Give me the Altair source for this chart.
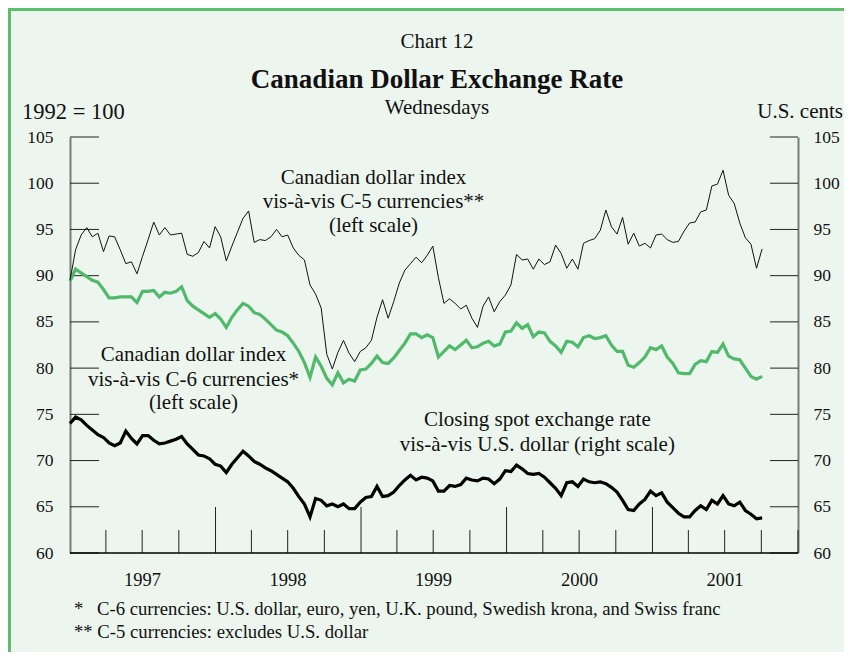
import altair as alt
import pandas as pd

# ---------------- data (every second Wednesday) ----------------
c5 = [89.5, 92.8, 94.4, 95.2, 94.2, 94.6, 92.6, 94.3, 94.2, 92.8,
      91.3, 91.5, 90.2, 92.1, 93.9, 95.8, 94.4, 95.2, 94.4, 94.5,
      94.6, 92.3, 92.1, 92.5, 93.7, 93.0, 95.3, 94.2, 91.6, 93.2,
      94.7, 96.2, 97.0, 93.6, 93.9, 93.8, 94.2, 95.0, 94.2, 94.4,
      93.0, 92.2, 91.7, 89.0, 88.0, 86.5, 81.5, 79.9, 81.7, 83.0,
      81.6, 80.7, 81.8, 82.2, 83.0, 85.5, 87.4, 85.4, 87.2, 89.2,
      90.6, 91.3, 92.0, 91.4, 92.2, 93.2, 89.8, 87.0, 87.5, 87.0,
      86.4, 86.8, 85.4, 84.4, 86.7, 87.7, 86.1, 87.2, 87.9, 89.0,
      92.3, 91.7, 91.8, 90.7, 91.8, 91.2, 91.5, 93.3, 92.4, 90.8,
      91.8, 90.7, 93.5, 93.8, 94.0, 94.9, 97.1, 95.3, 94.5, 96.3,
      93.4, 94.6, 93.2, 93.5, 93.0, 94.4, 94.5, 93.9, 93.6, 93.7,
      94.8, 95.7, 95.8, 96.9, 97.1, 99.7, 99.9, 101.4, 98.7, 97.8,
      95.7, 94.1, 93.4, 90.8, 92.9]

c6 = [89.4, 90.7, 90.3, 89.9, 89.5, 89.3, 88.5, 87.6, 87.6, 87.7,
      87.7, 87.7, 87.1, 88.3, 88.3, 88.4, 87.7, 88.2, 88.1, 88.3,
      88.8, 87.3, 86.7, 86.3, 85.9, 85.5, 85.9, 85.3, 84.4, 85.5,
      86.3, 87.0, 86.7, 86.0, 85.8, 85.3, 84.7, 84.1, 83.9, 83.5,
      82.7, 81.8, 80.6, 79.0, 81.2, 80.2, 78.9, 78.2, 79.5, 78.4,
      78.8, 78.6, 79.8, 79.9, 80.5, 81.3, 80.6, 80.5, 81.1, 81.9,
      82.7, 83.7, 83.7, 83.3, 83.6, 83.3, 81.2, 81.8, 82.4, 82.0,
      82.5, 83.0, 82.2, 82.3, 82.7, 82.9, 82.4, 82.6, 83.9, 84.0,
      84.9, 84.3, 84.7, 83.4, 83.9, 83.8, 82.9, 82.4, 81.7, 82.9,
      82.8, 82.3, 83.3, 83.5, 83.2, 83.3, 83.5, 82.5, 81.8, 81.8,
      80.3, 80.1, 80.6, 81.2, 82.2, 82.0, 82.4, 81.2, 80.5, 79.5,
      79.4, 79.4, 80.4, 80.8, 80.7, 81.8, 81.7, 82.6, 81.3, 81.0,
      80.9, 80.0, 79.1, 78.8, 79.1]

spot = [74.0, 74.7, 74.4, 73.8, 73.3, 72.8, 72.5, 71.9, 71.6, 71.9,
        73.2, 72.4, 71.8, 72.7, 72.7, 72.2, 71.8, 71.9, 72.1, 72.3,
        72.6, 71.8, 71.2, 70.6, 70.5, 70.2, 69.6, 69.4, 68.7, 69.6,
        70.3, 71.0, 70.5, 69.9, 69.6, 69.2, 68.9, 68.5, 68.1, 67.7,
        67.0, 66.1, 65.3, 63.9, 65.9, 65.7, 65.1, 65.3, 65.0, 65.3,
        64.8, 64.8, 65.5, 66.0, 66.1, 67.2, 66.1, 66.2, 66.6, 67.3,
        67.9, 68.4, 67.9, 68.2, 68.1, 67.8, 66.7, 66.7, 67.3, 67.2,
        67.4, 68.1, 67.9, 67.8, 68.1, 68.0, 67.5, 68.0, 68.9, 68.8,
        69.5, 69.1, 68.6, 68.5, 68.6, 68.2, 67.6, 67.0, 66.2, 67.6,
        67.7, 67.2, 68.0, 67.7, 67.6, 67.7, 67.5, 67.1, 66.6, 65.7,
        64.7, 64.6, 65.3, 65.8, 66.7, 66.2, 66.5, 65.5, 64.9, 64.3,
        63.9, 63.9, 64.6, 65.1, 64.7, 65.7, 65.3, 66.2, 65.3, 65.1,
        65.5, 64.6, 64.2, 63.7, 63.8]

y_ticks = [60, 65, 70, 75, 80, 85, 90, 95, 100, 105]
quarter_ticks = ["1997-04-01", "1997-07-01", "1997-10-01",
                 "1998-04-01", "1998-07-01", "1998-10-01",
                 "1999-04-01", "1999-07-01", "1999-10-01",
                 "2000-04-01", "2000-07-01", "2000-10-01",
                 "2001-04-01", "2001-07-01", "2001-10-01", "2002-01-01"]
year_ticks = ["1998-01-01", "1999-01-01", "2000-01-01", "2001-01-01"]
year_labels = ["1997", "1998", "1999", "2000", "2001"]
year_label_dates = ["1997-07-02", "1998-07-02", "1999-07-02", "2000-07-02", "2001-07-02"]

# ---------------- layout ----------------
W, H = 728, 416
PAD = {"left": 62, "top": 129, "right": 46, "bottom": 99}
FONT = "Liberation Serif"
BG = "#EDF6EE"
GREEN = "#50B96B"

dates = pd.date_range("1997-01-01", periods=len(c5), freq="14D")
df = pd.DataFrame({"date": dates, "c5": c5, "c6": c6, "spot": spot})

x_scale = alt.Scale(domain=[alt.DateTime(year=1997, month=1, date=1),
                            alt.DateTime(year=2002, month=1, date=1)])
y_scale = alt.Scale(domain=[60, 105], nice=False, zero=False)
X = alt.X("date:T", scale=x_scale, axis=None)


def yaxis(orient, pad):
    return alt.Axis(orient=orient, values=y_ticks, ticks=False, tickSize=0,
                    domain=True, domainColor="#7c7c7c", domainWidth=2,
                    grid=False, title=None, labelFont=FONT, labelFontSize=17.5,
                    labelColor="#111111", labelPadding=pad)


base = alt.Chart(df)
line_c6 = base.mark_line(color=GREEN, strokeWidth=3.2).encode(
    x=X, y=alt.Y("c6:Q", scale=y_scale, axis=yaxis("left", 17)))
line_c5 = base.mark_line(color="#111111", strokeWidth=1).encode(
    x=X, y=alt.Y("c5:Q", scale=y_scale, axis=None))
line_spot = base.mark_line(color="#000000", strokeWidth=3.2).encode(
    x=X, y=alt.Y("spot:Q", scale=y_scale, axis=yaxis("right", 15)))

ytdf = pd.DataFrame({"v": y_ticks})
ytick_left = alt.Chart(ytdf).mark_rule(color="#222222", strokeWidth=1).encode(
    y=alt.Y("v:Q", scale=y_scale, axis=None), x=alt.value(0), x2=alt.value(29))
ytick_right = alt.Chart(ytdf).mark_rule(color="#222222", strokeWidth=1).encode(
    y=alt.Y("v:Q", scale=y_scale, axis=None), x=alt.value(W - 28), x2=alt.value(W))

qdf = pd.DataFrame({"d": pd.to_datetime(quarter_ticks)})
ydf = pd.DataFrame({"d": pd.to_datetime(year_ticks)})
xtick_minor = alt.Chart(qdf).mark_rule(color="#222222", strokeWidth=1).encode(
    x=alt.X("d:T", scale=x_scale, axis=None), y=alt.value(H), y2=alt.value(H - 23))
xtick_major = alt.Chart(ydf).mark_rule(color="#222222", strokeWidth=1).encode(
    x=alt.X("d:T", scale=x_scale, axis=None), y=alt.value(H), y2=alt.value(H - 46))

one = pd.DataFrame({"a": [0]})
bottom_line = alt.Chart(one).mark_rule(color="#000000", strokeWidth=1.6).encode(
    x=alt.value(0), x2=alt.value(W), y=alt.value(H))

ldf = pd.DataFrame({"d": pd.to_datetime(year_label_dates), "t": year_labels})
year_text = alt.Chart(ldf).mark_text(font=FONT, fontSize=18.5, color="#111111",
                                     baseline="middle", align="center").encode(
    x=alt.X("d:T", scale=x_scale, axis=None), y=alt.value(443), text="t:N")


def txt(s, x, y, size=21, align="center", bold=False):
    return alt.Chart(pd.DataFrame({"t": [s]})).mark_text(
        font=FONT, fontSize=size, color="#111111", align=align, baseline="middle",
        fontWeight="bold" if bold else "normal").encode(
        text="t:N", x=alt.value(x), y=alt.value(y))


texts = [
    txt("Chart 12", 367, -95),
    txt("Canadian Dollar Exchange Rate", 367, -57, size=27, bold=True),
    txt("Wednesdays", 367, -29),
    txt("1992 = 100", -48, -25, size=22.5, align="left"),
    txt("U.S. cents", 773, -25, align="right"),
    txt("Canadian dollar index", 303.5, 41),
    txt("vis-à-vis C-5 currencies**", 303.5, 65),
    txt("(left scale)", 303.5, 89),
    txt("Canadian dollar index", 123.5, 218),
    txt("vis-à-vis C-6 currencies*", 123.5, 243),
    txt("(left scale)", 123.5, 266),
    txt("Closing spot exchange rate", 467.3, 283),
    txt("vis-à-vis U.S. dollar (right scale)", 467.3, 308),
    txt("*", 4, 472, size=18.7, align="left"),
    txt("C-6 currencies: U.S. dollar, euro, yen, U.K. pound, Swedish krona, and Swiss franc",
        27, 472, size=18.7, align="left"),
    txt("** C-5 currencies: excludes U.S. dollar", 4, 495, size=18.7, align="left"),
]

border_left = alt.Chart(one).mark_rule(color="#5CBF70", strokeWidth=3).encode(
    x=alt.value(-60.5), y=alt.value(-129), y2=alt.value(H + 99))
border_top = alt.Chart(one).mark_rule(color="#5CBF70", strokeWidth=3).encode(
    x=alt.value(-62), x2=alt.value(W + 46), y=alt.value(-127.5))

chart = alt.layer(
    xtick_minor, xtick_major, ytick_left, ytick_right, bottom_line,
    line_c6, line_c5, line_spot, year_text, *texts, border_left, border_top
).resolve_scale(y="independent").properties(
    width=W, height=H, padding=PAD, background=BG,
    autosize=alt.AutoSizeParams(type="none")
).configure_view(stroke=None)

chart.save("out.html", embed_options={"renderer": "svg", "actions": False})
